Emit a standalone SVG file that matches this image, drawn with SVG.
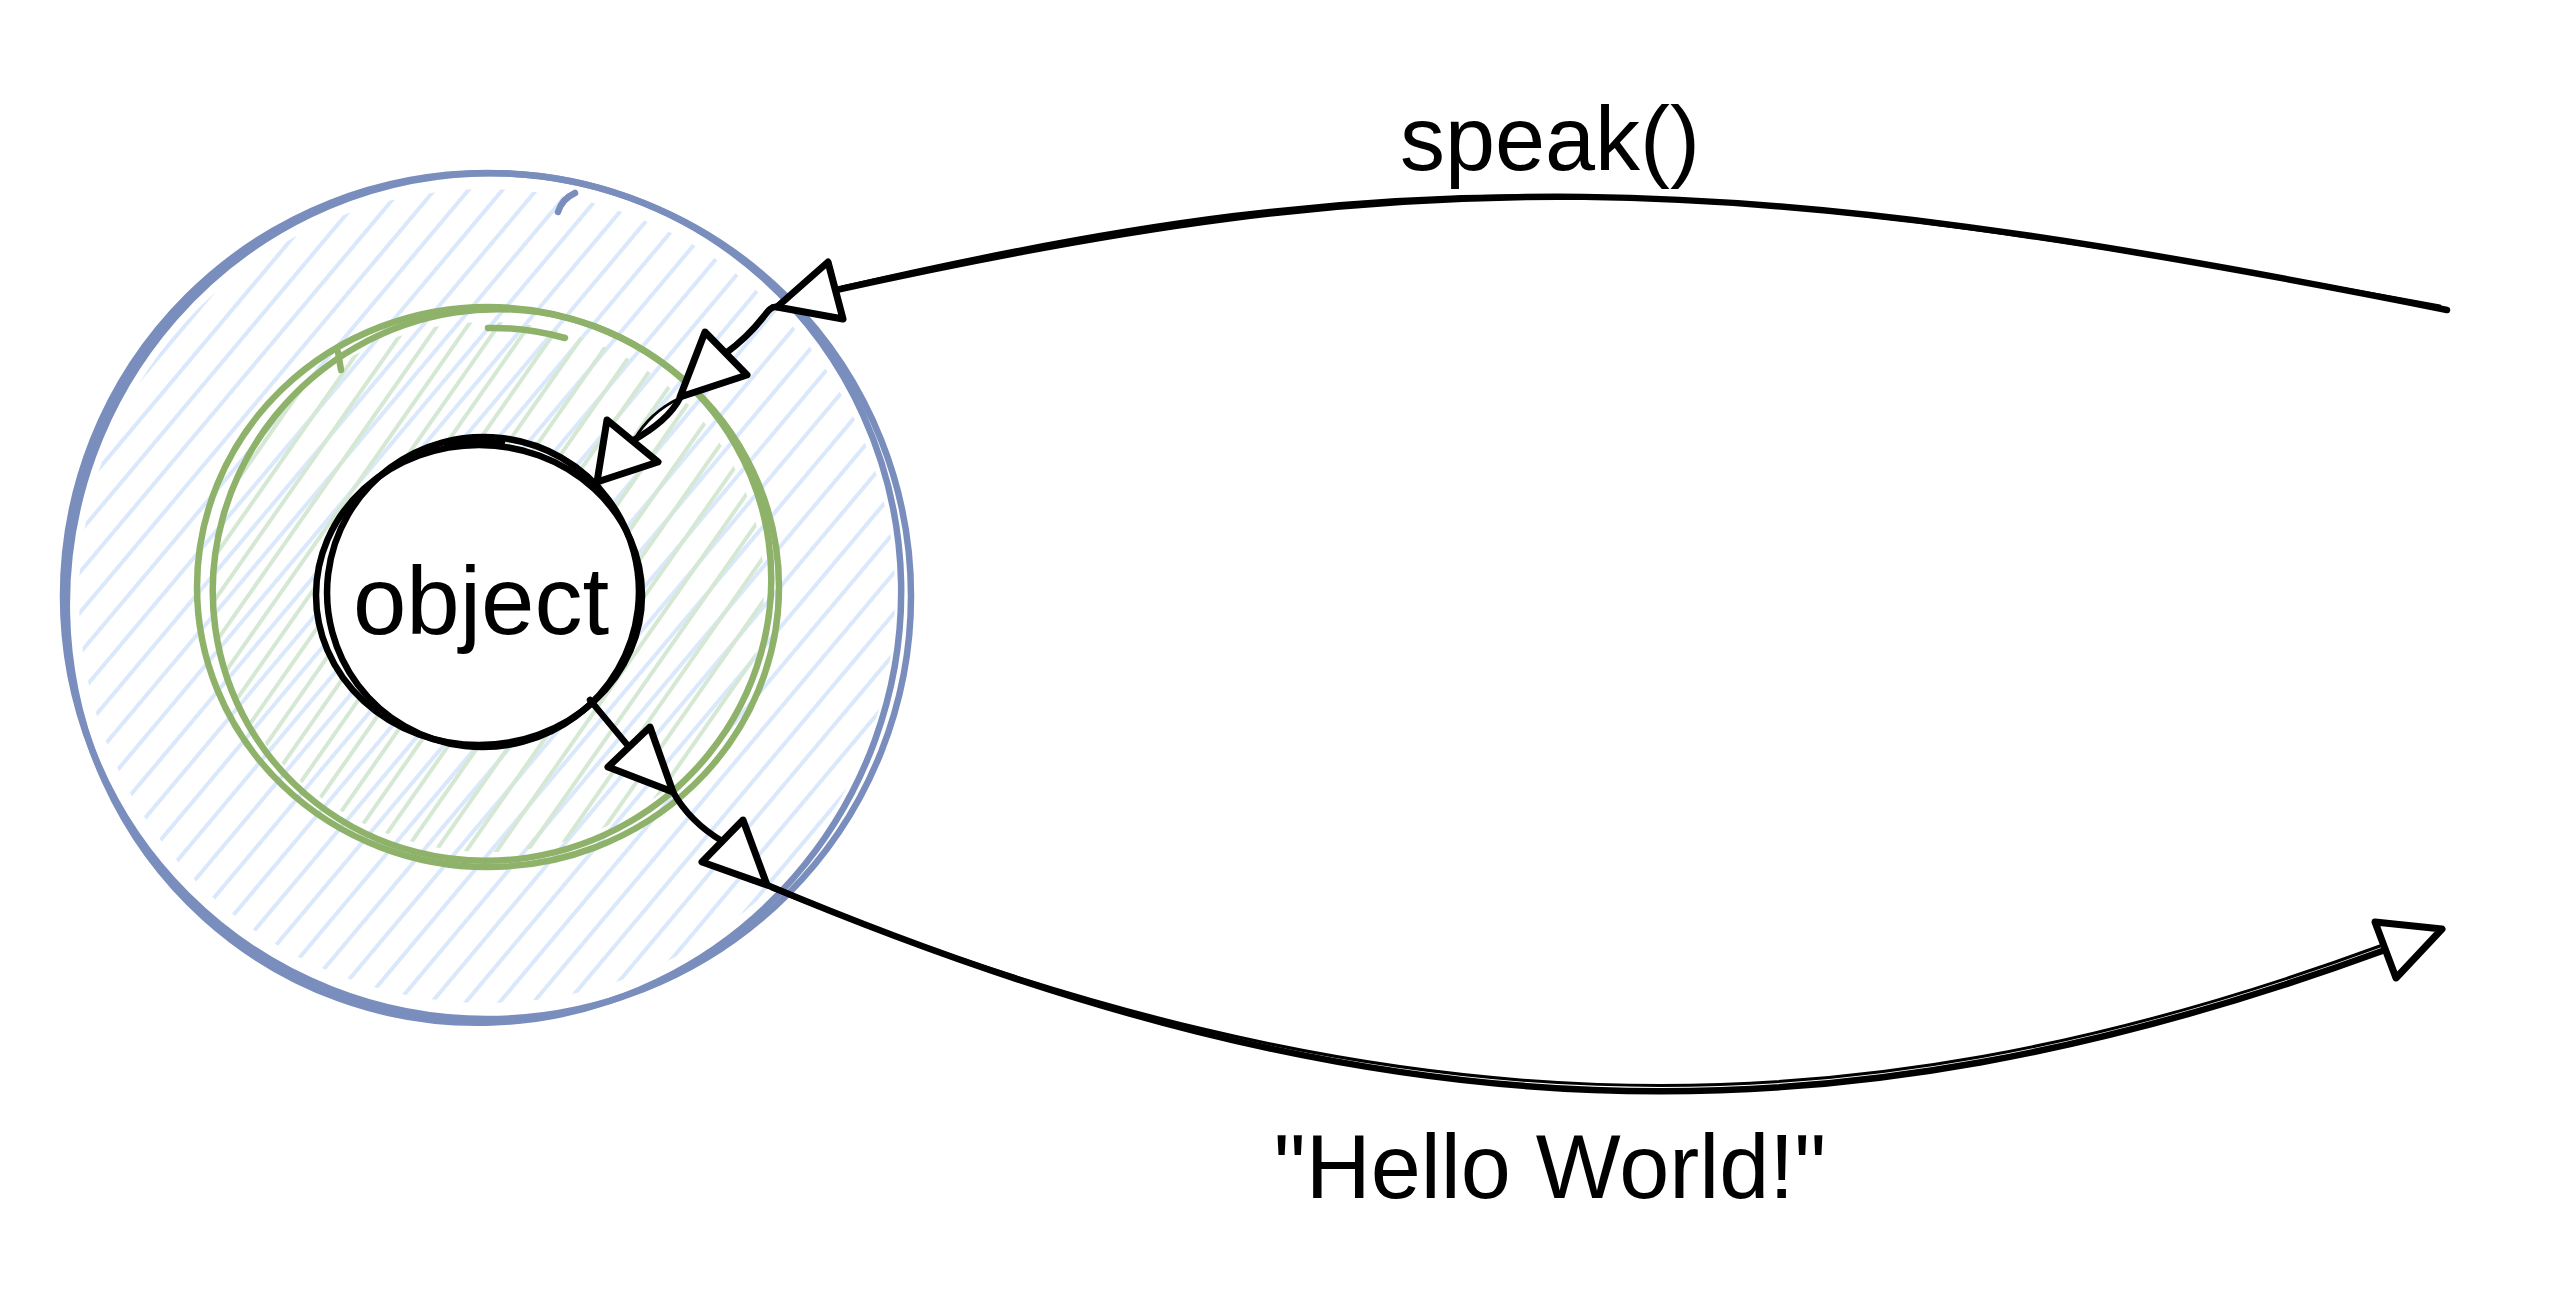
<svg xmlns="http://www.w3.org/2000/svg" width="2570" height="1310" viewBox="0 0 2570 1310">
<style>
.bs{fill:none;stroke:#7a8ebe;stroke-width:6.5;stroke-linecap:round}
.gs{fill:none;stroke:#8fb26a;stroke-width:6.5;stroke-linecap:round}
.ks{fill:none;stroke:#000;stroke-width:6.5;stroke-linecap:round}
.edge{fill:none;stroke:#000;stroke-width:6.5;stroke-linecap:round}
.edge2{fill:none;stroke:#000;stroke-width:3;stroke-linecap:round}
.head{fill:#fff;stroke:#000;stroke-width:7;stroke-linejoin:round}
.lbl{font-family:"Liberation Sans",Arial,Helvetica,sans-serif;fill:#000;text-anchor:middle}
</style>
<defs>
<pattern id="hatchBlue" patternUnits="userSpaceOnUse" width="300" height="26" patternTransform="rotate(-50)">
<line x1="0" y1="13" x2="300" y2="13" stroke="#dae8fc" stroke-width="3.8"/>
</pattern>
<pattern id="hatchGreen" patternUnits="userSpaceOnUse" width="300" height="25" patternTransform="rotate(-55) translate(0,8)">
<line x1="0" y1="12" x2="300" y2="12" stroke="#d5e8d4" stroke-width="3.8"/>
</pattern>
<clipPath id="clipBlue"><ellipse cx="487" cy="596" rx="408" ry="407"/></clipPath>
<clipPath id="clipGreen"><ellipse cx="488" cy="587" rx="276" ry="265"/></clipPath>
</defs>
<rect x="0" y="0" width="2570" height="1310" fill="#fff"/>

<g id="outer-scope">
<rect x="60" y="170" width="860" height="860" fill="url(#hatchBlue)" clip-path="url(#clipBlue)"/>
<ellipse class="bs" cx="487" cy="596" rx="424" ry="423"/>
<ellipse class="bs" cx="484" cy="598" rx="416" ry="426" transform="rotate(20 484 598)" stroke-width="5"/>
<path class="bs" d="M 558 212 Q 562 199 575 193"/>
</g>

<g id="inner-scope">
<rect x="190" y="300" width="600" height="580" fill="url(#hatchGreen)" clip-path="url(#clipGreen)"/>
<ellipse class="gs" cx="488" cy="587" rx="291" ry="280"/>
<ellipse class="gs" cx="492" cy="585" rx="281" ry="274" transform="rotate(-30 492 585)" stroke-width="5.5"/>
<path class="gs" d="M 488 328 Q 525 327 565 338"/>
<path class="gs" d="M 338 352 L 341 370"/>
</g>

<g id="object">
<ellipse cx="479" cy="595" rx="163" ry="150" fill="#fff" stroke="#000" stroke-width="6.5"/>
<ellipse class="ks" cx="483" cy="592" rx="156" ry="155" transform="rotate(-15 483 592)" stroke-width="5.5"/>
<path class="ks" d="M 447 447 Q 472 440 502 442"/>
<text class="lbl" x="481" y="634" font-size="96">object</text>
</g>

<g id="connectors">
<g id="edge-speak">
<path class="edge" d="M 2447 310 C 1712 163, 1416 162, 836 290"/>
<path class="edge2" d="M 2440 306 C 1705 172, 1420 153, 842 287"/>
<polygon class="head" points="777,307 828,262 843,319"/>
<text class="lbl" x="1550" y="170" font-size="90">speak()</text>
</g>
<g id="edge-blue-green">
<path class="edge" d="M 777 307 C 766 305, 764 326, 726 353"/>
<path class="edge2" d="M 772 306 Q 758 332 728 352"/>
<polygon class="head" points="680,397 705,332 747,375"/>
</g>
<g id="edge-green-object">
<path class="edge" d="M 680 398 Q 668 421 632 441"/>
<path class="edge2" d="M 680 398 Q 650 412 634 440"/>
<polygon class="head" points="597,482 607,420 658,462"/>
</g>
<g id="edge-object-green">
<path class="edge" d="M 590 700 L 629 747"/>
<polygon class="head" points="673,792 650,727 608,767"/>
</g>
<g id="edge-green-blue">
<path class="edge" d="M 673 792 Q 690 822 722 841" stroke-width="8"/>
<polygon class="head" points="767,885 743,820 702,862"/>
</g>
<g id="edge-hello">
<path class="edge" d="M 767 885 C 1374 1140, 1825 1155, 2385 950"/>
<path class="edge2" d="M 772 889 C 1380 1132, 1830 1148, 2380 946"/>
<polygon class="head" points="2442,929 2375,922 2396,978"/>
<text class="lbl" x="1550" y="1198" font-size="90">"Hello World!"</text>
</g>
</g>
</svg>
